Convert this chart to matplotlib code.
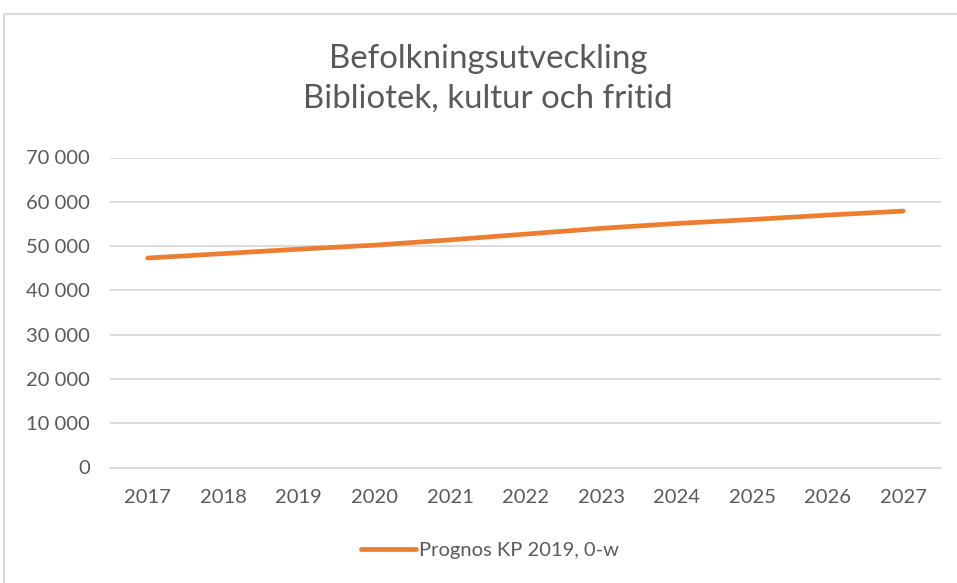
import matplotlib
matplotlib.use("Agg")
import matplotlib.pyplot as plt
from matplotlib.patches import Rectangle
from matplotlib.ticker import FuncFormatter

years = ["2017", "2018", "2019", "2020", "2021", "2022", "2023", "2024", "2025", "2026", "2027"]
values = [47300, 48300, 49300, 50200, 51400, 52700, 54000, 55100, 56000, 57000, 57900]
series_name = "Prognos KP 2019, 0-w"
title_text = "Befolkningsutveckling\nBibliotek, kultur och fritid"
yticks = [0, 10000, 20000, 30000, 40000, 50000, 60000, 70000]

plt.rcParams['font.family'] = ['Lato', 'DejaVu Sans']
W, H = 957, 583
fig = plt.figure(figsize=(W / 100, H / 100), dpi=100)
fig.patch.set_facecolor("white")

# chart-area border (extends past right/bottom edges)
fig.patches.append(Rectangle((3.5 / W, -0.1), 1.2, 1 - 13.5 / H + 0.1,
                             transform=fig.transFigure, fill=False,
                             edgecolor="#D9D9D9", linewidth=1.5))

ax = fig.add_axes([110 / W, 1 - 467.5 / H, (941 - 110) / W, (467.5 - 157.5) / H])
x = list(range(len(years)))
ax.plot(x, values, color="#ED7D31", linewidth=3.4, solid_capstyle="round",
        label=series_name, zorder=3)
ax.set_xlim(-0.5, len(years) - 0.5)
ax.set_ylim(0, 70000)
ax.set_yticks(yticks)
ax.yaxis.set_major_formatter(FuncFormatter(lambda v, p: f"{int(v):,}".replace(",", " ")))
ax.set_xticks(x)
ax.set_xticklabels(years)
ax.grid(axis="y", color="#D9D9D9", linewidth=1.3)
ax.set_axisbelow(True)
for s in ["top", "right", "left"]:
    ax.spines[s].set_visible(False)
ax.spines["bottom"].set_color("#D9D9D9")
ax.spines["bottom"].set_linewidth(1.3)
ax.tick_params(axis="both", length=0, labelsize=14.5, labelcolor="#595959")
ax.tick_params(axis="x", pad=15.5)
ax.tick_params(axis="y", pad=14.4)

fig.text(488 / W, 1 - 78.5 / H, title_text, ha="center", va="center",
         fontsize=23.8, color="#595959", linespacing=1.41)

leg = fig.legend(loc="center", bbox_to_anchor=(490 / W, 1 - 550 / H), frameon=False,
                 fontsize=14.5, handlelength=2.75, handletextpad=0.15)
for t in leg.get_texts():
    t.set_color("#595959")

fig.savefig("out.png", dpi=100)
